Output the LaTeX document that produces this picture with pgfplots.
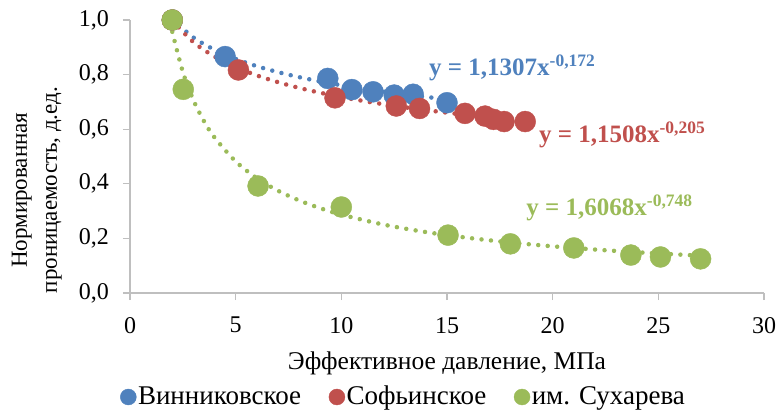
\documentclass[border=0pt]{standalone}
\usepackage{pgfplots}
\pgfplotsset{compat=1.18}
\usepackage{fontspec}
\setmainfont{Liberation Serif}
\definecolor{cB}{HTML}{4F81BD}
\definecolor{cR}{HTML}{C0504D}
\definecolor{cG}{HTML}{9BBB59}
\definecolor{axgray}{HTML}{BFBFBF}
\begin{document}
\fontsize{24bp}{28bp}\selectfont
\begin{tikzpicture}
\begin{axis}[
  at={(130bp,119bp)}, anchor=origin,
  scale only axis, width=634bp, height=273bp,
  xmin=0, xmax=30, ymin=0, ymax=1,
  xtick={0,5,...,30}, ytick={0,0.2,...,1.0},
  axis x line=bottom, axis y line=left,
  axis line style={axgray, line width=1.2bp, -},
  tick align=outside, major tick length=7bp,
  tick style={axgray, line width=1.2bp},
  /pgf/number format/assume math mode=true,
  yticklabel style={/pgf/number format/use comma, /pgf/number format/fixed, /pgf/number format/fixed zerofill, /pgf/number format/precision=1, xshift=-6bp},
  ticklabel style={font=\fontsize{24bp}{28bp}\selectfont, text=black},
  xticklabel style={yshift=-9bp},
  xlabel={Эффективное давление, МПа},
  xlabel style={font=\fontsize{25.5bp}{30bp}\selectfont, at={(rel axis cs:0.5,0)}, anchor=north, inner sep=0pt, yshift=-59bp},
  ylabel={Нормированная\\проницаемость, д.ед.},
  ylabel style={font=\fontsize{23bp}{30bp}\selectfont, align=center, at={(rel axis cs:0,0.377)}, anchor=south, inner sep=0pt, xshift=0bp, yshift=68bp},
  clip=false,
  legend columns=-1,
  legend style={draw=none, fill=none, at={(0.431,-0.381)}, anchor=center,
    font=\fontsize{27bp}{30bp}\selectfont, nodes={inner xsep=1.5bp, inner ysep=1bp},
    /tikz/every even column/.append style={column sep=26bp}},
  legend image code/.code={\fill[#1] (0bp,0bp) circle (8bp);},
]
% markers
\addplot[only marks, mark=*, mark size=10.5bp, color=cB, mark options={draw=cB, fill=cB}] coordinates {
(2,1.0) (4.5,0.866) (9.36,0.786) (10.5,0.745) (11.5,0.737) (12.5,0.725) (13.4,0.728) (15.0,0.697)};
\addlegendentry{Винниковское}
\addplot[only marks, mark=*, mark size=10.5bp, color=cR, mark options={draw=cR, fill=cR}] coordinates {
(2,1.0) (5.13,0.817) (9.7,0.715) (12.6,0.685) (13.7,0.676) (15.85,0.658) (16.8,0.648) (17.2,0.636) (17.7,0.628) (18.7,0.628)};
\addlegendentry{Софьинское}
\addplot[only marks, mark=*, mark size=10.5bp, color=cG, mark options={draw=cG, fill=cG}] coordinates {
(2,1.0) (2.52,0.746) (6.06,0.392) (10.0,0.315) (15.05,0.212) (18.0,0.18) (21.0,0.165) (23.7,0.139) (25.1,0.132) (27.0,0.125)};
\addlegendentry{им. Сухарева}
% trendlines (tabulated from the displayed power-law equations)
\addplot[cB, line width=4.5bp, line cap=round, dash pattern=on 0bp off 9.5bp, smooth, forget plot] coordinates {
(2,1.0036) (3,0.9360) (4,0.8909) (5,0.8573) (6,0.8308) (7,0.8091) (8,0.7907) (9,0.7749) (10,0.7610) (11,0.7486) (12,0.7375) (13,0.7274) (14,0.7182) (15,0.7097)};
\addplot[cR, line width=4.5bp, line cap=round, dash pattern=on 0bp off 9.5bp, smooth, forget plot] coordinates {
(2,0.9983) (3,0.9188) (4,0.8661) (5,0.8274) (6,0.7971) (7,0.7723) (8,0.7513) (9,0.7335) (10,0.7179) (11,0.7039) (12,0.6915) (13,0.6803) (14,0.6700) (15,0.6606) (16,0.6519) (17,0.6439) (18,0.6364) (18.7,0.6315)};
\addplot[cG, line width=4.5bp, line cap=round, dash pattern=on 0bp off 9.5bp, smooth, forget plot] coordinates {
(2,0.9567) (2.5,0.8097) (3,0.7064) (3.5,0.6295) (4,0.5696) (5,0.4820) (6,0.4206) (7,0.3748) (8,0.3392) (9,0.3106) (10,0.2871) (12,0.2505) (14,0.2232) (16,0.2020) (18,0.1849) (20,0.1710) (22,0.1592) (24,0.1492) (27,0.1366)};
% trendline equations
\node[anchor=base west, text=cB, font=\bfseries\fontsize{25bp}{30bp}\selectfont, inner sep=0pt] at (axis cs:14.15,0.798) {y = 1,1307x\textsuperscript{-0,172}};
\node[anchor=base west, text=cR, font=\bfseries\fontsize{25bp}{30bp}\selectfont, inner sep=0pt] at (axis cs:19.35,0.553) {y = 1,1508x\textsuperscript{-0,205}};
\node[anchor=base west, text=cG, font=\bfseries\fontsize{25bp}{30bp}\selectfont, inner sep=0pt] at (axis cs:18.75,0.285) {y = 1,6068x\textsuperscript{-0,748}};
\end{axis}
\pgfresetboundingbox
\path[use as bounding box] (0,0) rectangle (779bp,412bp);
\end{tikzpicture}
\end{document}
